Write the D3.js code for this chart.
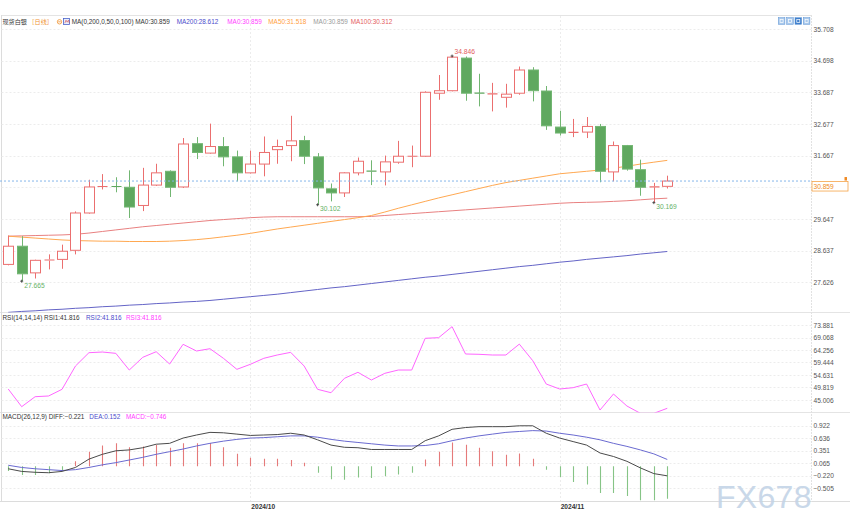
<!DOCTYPE html>
<html><head><meta charset="utf-8">
<script src="https://cdn.jsdelivr.net/npm/d3@7"></script>
<style>
body{margin:0;background:#fff;}
svg{display:block;font-family:"Liberation Sans",Arial,"Noto Sans CJK SC",sans-serif;}
</style>
</head><body>
<svg id="c" width="850" height="530"></svg>
<script>
// ---------------- DATA ----------------
const dates = ["2024-09-05","2024-09-06","2024-09-09","2024-09-10","2024-09-11","2024-09-12","2024-09-13","2024-09-16","2024-09-17","2024-09-18","2024-09-19","2024-09-20","2024-09-23","2024-09-24","2024-09-25","2024-09-26","2024-09-27","2024-09-30",
"2024-10-01","2024-10-02","2024-10-03","2024-10-04","2024-10-07","2024-10-08","2024-10-09","2024-10-10","2024-10-11","2024-10-14","2024-10-15","2024-10-16","2024-10-17","2024-10-18","2024-10-21","2024-10-22","2024-10-23","2024-10-24","2024-10-25","2024-10-28","2024-10-29","2024-10-30","2024-10-31",
"2024-11-01","2024-11-04","2024-11-05","2024-11-06","2024-11-07","2024-11-08","2024-11-11","2024-11-12","2024-11-13"];
const openV  = [28.20,28.78,27.93,28.32,28.36,28.65,29.84,30.67,30.70,30.66,30.08,30.73,31.17,30.67,32.05,31.75,31.96,31.63,31.12,31.40,31.86,31.99,32.15,31.63,30.61,30.48,31.12,31.19,31.15,31.46,31.64,31.65,33.66,33.74,34.78,33.67,33.63,33.53,33.66,34.40,33.73,32.58,32.40,32.42,32.60,31.15,31.99,31.22,30.66,30.69];
const highV  = [29.12,29.10,28.35,28.52,28.83,29.89,30.90,31.08,30.98,31.20,31.28,31.41,31.20,32.23,32.26,32.69,32.26,31.83,31.83,32.28,32.18,32.94,32.30,31.75,30.78,31.14,31.61,31.52,31.67,32.14,31.99,33.72,34.24,34.846,34.83,34.28,33.99,33.96,34.51,34.49,33.89,33.10,32.84,32.90,32.68,32.12,32.01,31.54,30.80,31.03];
const lowV   = [28.17,27.665,27.75,28.04,28.06,28.52,29.82,30.59,30.50,29.68,29.90,30.70,30.35,30.64,31.56,31.73,31.33,30.85,31.10,31.01,31.41,31.49,31.40,30.102,30.21,30.35,31.04,30.73,30.72,31.41,31.30,31.63,33.45,33.72,33.42,33.24,33.08,33.20,33.61,33.40,32.49,32.31,32.26,32.23,30.82,30.85,31.19,30.39,30.169,30.62];
const closeV = [28.78,27.90,28.33,28.36,28.62,29.84,30.67,30.70,30.67,30.03,30.73,31.12,30.66,32.04,31.77,31.96,31.63,31.12,31.40,31.77,31.96,32.14,31.65,30.64,30.48,31.12,31.49,31.16,31.47,31.65,31.66,33.69,33.74,34.81,33.66,33.65,33.65,33.63,34.40,33.74,32.62,32.39,32.42,32.60,31.17,31.99,31.24,30.66,30.69,30.859];

const ma50  = [29.10,29.07,29.04,29.01,28.98,28.96,28.95,28.94,28.94,28.93,28.93,28.93,28.94,28.96,28.99,29.03,29.08,29.13,29.19,29.26,29.33,29.39,29.45,29.51,29.57,29.63,29.69,29.76,29.87,29.99,30.10,30.21,30.32,30.42,30.52,30.62,30.72,30.81,30.88,30.95,31.02,31.09,31.13,31.17,31.21,31.27,31.33,31.40,31.46,31.518];
const ma100 = [29.10,29.11,29.12,29.13,29.14,29.16,29.20,29.25,29.30,29.35,29.40,29.44,29.48,29.52,29.56,29.60,29.63,29.66,29.69,29.71,29.72,29.72,29.72,29.72,29.72,29.72,29.72,29.73,29.76,29.79,29.82,29.85,29.88,29.91,29.94,29.97,30.00,30.03,30.06,30.09,30.12,30.15,30.17,30.18,30.19,30.21,30.23,30.26,30.29,30.312];
const ma200 = [26.67,26.70,26.72,26.75,26.77,26.80,26.82,26.85,26.87,26.90,26.92,26.95,26.97,27.00,27.02,27.05,27.09,27.13,27.17,27.21,27.25,27.30,27.35,27.40,27.45,27.49,27.54,27.59,27.64,27.69,27.74,27.79,27.83,27.88,27.93,27.98,28.03,28.08,28.13,28.17,28.22,28.27,28.31,28.36,28.40,28.44,28.48,28.53,28.57,28.612];

const rsi = [49.24,42.43,46.28,46.55,49.12,58.09,63.22,63.48,62.97,56.55,61.43,63.60,58.86,66.45,63.87,64.75,61.05,56.81,58.74,61.05,62.33,63.35,58.09,49.12,47.81,53.36,55.67,52.70,55.28,56.55,56.55,68.76,69.00,73.24,62.72,62.60,62.33,62.33,66.52,60.13,51.16,49.24,49.75,51.16,41.15,47.31,42.69,39.88,39.88,41.816];

const diff = [-0.06,-0.12,-0.14,-0.15,-0.12,-0.03,0.16,0.27,0.35,0.37,0.42,0.50,0.52,0.64,0.71,0.77,0.76,0.73,0.70,0.71,0.72,0.75,0.71,0.60,0.48,0.43,0.42,0.38,0.38,0.38,0.38,0.58,0.69,0.84,0.88,0.90,0.90,0.90,0.92,0.92,0.75,0.64,0.56,0.48,0.30,0.22,0.11,-0.04,-0.17,-0.221];
const dea  = [0.02,-0.03,-0.06,-0.08,-0.10,-0.08,-0.03,0.03,0.08,0.14,0.20,0.27,0.33,0.39,0.46,0.52,0.57,0.61,0.64,0.65,0.67,0.69,0.69,0.66,0.61,0.57,0.54,0.51,0.48,0.46,0.46,0.47,0.51,0.58,0.64,0.69,0.73,0.77,0.79,0.81,0.80,0.75,0.71,0.66,0.60,0.52,0.45,0.37,0.28,0.152];
const macdHist = [-0.11,-0.20,-0.20,-0.16,-0.11,0.11,0.33,0.47,0.52,0.43,0.45,0.48,0.42,0.52,0.52,0.53,0.43,0.28,0.19,0.17,0.17,0.14,0.08,-0.15,-0.30,-0.31,-0.26,-0.27,-0.23,-0.19,-0.15,0.15,0.33,0.54,0.49,0.42,0.34,0.26,0.29,0.17,-0.08,-0.25,-0.36,-0.42,-0.61,-0.61,-0.68,-0.78,-0.78,-0.746];

const priceTicks = [35.708,34.698,33.687,32.677,31.667,30.657,29.647,28.637,27.626];
const rsiTicks   = [73.881,69.068,64.256,59.444,54.631,49.819,45.006];
const macdTicks  = [0.922,0.636,0.351,0.065,-0.220,-0.505];
const monthTicks = ["2024-10-01","2024-11-01"];
const lastPrice = 30.859;
const ma0Value = 30.859;
const markIdx = {low1:1, low2:23, high:33, low3:48};

// ---------------- LAYOUT ----------------
const svg = d3.select("#c");
const RED = "#eb6f6f", GREEN = "#5fa85f", GREEN_E = "#72b672";
const axisX = 811.5, left = 1.5;
const step = 13.45;
const x = d3.scaleBand().domain(dates).range([left, left + step*dates.length]).padding(0);
const cx = d => x(d) + x.bandwidth()/2;

const yP = d3.scaleLinear().domain([27.626, 35.708]).range([282.4, 29]);
const yR = d3.scaleLinear().domain([45.006, 73.881]).range([400, 325]);
const yM = d3.scaleLinear().domain([-0.505, 0.922]).range([488.3, 425.7]);

const panels = [{t:15.5,b:312.5,id:"cp"},{t:312.5,b:412.5,id:"cr"},{t:412.5,b:501.5,id:"cm"}];
const defs = svg.append("defs");
panels.forEach(p=>{
  defs.append("clipPath").attr("id",p.id).append("rect")
    .attr("x",left).attr("y",p.t).attr("width",axisX-left).attr("height",p.b-p.t);
});

// frame lines
svg.append("line").attr("x1",left).attr("x2",axisX).attr("y1",15.5).attr("y2",15.5).attr("stroke","#e4e4e4");
[312.5,412.5].forEach(yy=>svg.append("line").attr("x1",0).attr("x2",850).attr("y1",yy).attr("y2",yy).attr("stroke","#e4e4e4"));
svg.append("line").attr("x1",0).attr("x2",850).attr("y1",501.5).attr("y2",501.5).attr("stroke","#dcdcdc");
svg.append("line").attr("x1",left).attr("x2",left).attr("y1",15).attr("y2",502).attr("stroke","#dcdcdc");
svg.append("line").attr("x1",axisX).attr("x2",axisX).attr("y1",15).attr("y2",502).attr("stroke","#e2e2e2").attr("stroke-dasharray","2,1");

// grids
function hgrid(scale, ticks){
  ticks.forEach(t=>svg.append("line").attr("x1",left).attr("x2",axisX)
    .attr("y1",Math.round(scale(t))+0.5).attr("y2",Math.round(scale(t))+0.5)
    .attr("stroke","#ececec").attr("stroke-dasharray","2,2"));
}
hgrid(yP, priceTicks); hgrid(yR, rsiTicks); hgrid(yM, macdTicks);
monthTicks.forEach(m=>{
  const xx = Math.round(cx(m))+0.5;
  svg.append("line").attr("x1",xx).attr("x2",xx).attr("y1",16).attr("y2",501)
    .attr("stroke","#ececec").attr("stroke-dasharray","2,2");
});

// axes
const fmt3 = d3.format(".3f");
function rightAxis(scale, ticks){
  const g = svg.append("g").attr("transform",`translate(${axisX},0)`)
    .call(d3.axisRight(scale).tickValues(ticks).tickSize(0).tickPadding(2).tickFormat(fmt3));
  g.select(".domain").remove();
  g.selectAll("text").attr("fill","#555").style("font-size","6.6px").style("font-family","'Liberation Sans',Arial,sans-serif");
  return g;
}
rightAxis(yP, priceTicks.filter(t=>Math.abs(yP(t)-yP(lastPrice))>9));
rightAxis(yR, rsiTicks);
rightAxis(yM, macdTicks);

const xg = svg.append("g").attr("transform","translate(0,501.5)")
  .call(d3.axisBottom(x).tickValues(monthTicks).tickSize(0).tickPadding(3)
    .tickFormat(d=>d.slice(0,7).replace("-","/")));
xg.select(".domain").remove();
xg.selectAll("text").attr("text-anchor","start").attr("x",1).attr("fill","#333")
  .style("font-size","6.6px").style("font-weight","bold").style("font-family","'Liberation Sans',Arial,sans-serif");

// ---------------- MAIN PANEL ----------------
const gp = svg.append("g").attr("clip-path","url(#cp)");
function maLine(g, arr, scale, color){
  g.append("path").datum(arr).attr("fill","none").attr("stroke",color).attr("stroke-width",1)
   .attr("d", d3.line().x((v,i)=>cx(dates[i])).y(v=>scale(v)));
}
maLine(gp, ma200, yP, "#6464c6");
maLine(gp, ma100, yP, "#e88080");
maLine(gp, ma50,  yP, "#ffa851");

// last price dotted line
svg.append("line").attr("x1",0).attr("x2",axisX).attr("y1",yP(lastPrice)).attr("y2",yP(lastPrice))
  .attr("stroke","#86b6ea").attr("stroke-dasharray","2,2").attr("stroke-width",1);

const bodyW = 10;
dates.forEach((d,i)=>{
  const o=openV[i], c=closeV[i], h=highV[i], l=lowV[i];
  const up = c >= o;
  const col = up ? RED : GREEN;
  const xc = Math.round(cx(d))+0.5;
  const top = yP(Math.max(o,c)), bot = yP(Math.min(o,c));
  gp.append("line").attr("x1",xc).attr("x2",xc).attr("y1",yP(h)).attr("y2",top).attr("stroke",up?RED:GREEN_E);
  gp.append("line").attr("x1",xc).attr("x2",xc).attr("y1",bot).attr("y2",yP(l)).attr("stroke",up?RED:GREEN_E);
  const bx = xc - bodyW/2;
  if (bot - top < 1.6) {
    gp.append("line").attr("x1",bx).attr("x2",bx+bodyW).attr("y1",(top+bot)/2).attr("y2",(top+bot)/2)
      .attr("stroke",col).attr("stroke-width",1.2);
  } else {
    gp.append("rect").attr("x",bx).attr("y",top).attr("width",bodyW).attr("height",bot-top)
      .attr("fill",up?"#fff":GREEN).attr("stroke",up?RED:GREEN_E).attr("stroke-width",1);
  }
});

// hi/lo markers
function mark(i, v, isHigh){
  const xc = cx(dates[i]), yy = yP(v);
  gp.append("path").attr("d",`M${xc-1.5},${yy}h3M${xc},${yy-1.5}v3`).attr("stroke","#333").attr("stroke-width",0.8);
  svg.append("text").attr("x",xc+2.5).attr("y", isHigh ? yy-2 : yy+6.5)
    .attr("fill", isHigh ? "#e25a5a" : "#66b266").style("font-size","6.7px").text(fmt3(v));
}
mark(markIdx.low1, lowV[markIdx.low1], false);
mark(markIdx.low2, lowV[markIdx.low2], false);
mark(markIdx.high, highV[markIdx.high], true);
mark(markIdx.low3, lowV[markIdx.low3], false);

// last price box
const ly = yP(lastPrice);
svg.append("rect").attr("x",812).attr("y",ly+0.5).attr("width",36).attr("height",9.5)
  .attr("fill","#fff").attr("stroke","#f5a449").attr("stroke-width",0.8);
svg.append("text").attr("x",813.5).attr("y",ly+8).attr("fill","#f08a24").style("font-size","6.6px").text(fmt3(lastPrice));
svg.append("rect").attr("x",844.5).attr("y",ly-4).attr("width",2.5).attr("height",3.5).attr("fill","#f08a24");

// ---------------- RSI PANEL ----------------
const gr = svg.append("g").attr("clip-path","url(#cr)");
maLine(gr, rsi, yR, "#ff66ff");

// ---------------- MACD PANEL ----------------
const gm = svg.append("g").attr("clip-path","url(#cm)");
dates.forEach((d,i)=>{
  const xc = Math.round(cx(d))+0.5, v = macdHist[i];
  gm.append("line").attr("x1",xc).attr("x2",xc).attr("y1",yM(0)).attr("y2",yM(v))
    .attr("stroke", v>=0 ? "#e57a7a" : "#86c486").attr("stroke-width",1.1);
});
maLine(gm, dea, yM, "#6a6ad0");
maLine(gm, diff, yM, "#4a4a4a");

// ---------------- LEGENDS ----------------
const fmt = d3.format(".3f");
const last = dates.length-1;
function piece(xx, yy, t, c, fs, fam){
  const tx = svg.append("text").attr("x",xx).attr("y",yy).attr("fill",c).style("font-size",fs||"6.4px").text(t);
  if (fam) tx.style("font-family",fam);
  return tx;
}
const cjk = "'Noto Sans CJK SC',sans-serif";
piece(2.5, 24.2, "现货白银", "#333", "6.1px", cjk);
piece(28.5, 24.2, "［日线］", "#f0922f", "6.1px", cjk);
svg.append("circle").attr("cx",59.5).attr("cy",21.8).attr("r",2.2).attr("fill","none").attr("stroke","#f0922f").attr("stroke-width",0.8);
svg.append("line").attr("x1",58.2).attr("x2",60.8).attr("y1",21.8).attr("y2",21.8).attr("stroke","#f0922f").attr("stroke-width",0.8);
svg.append("rect").attr("x",63.5).attr("y",18.5).attr("width",6).attr("height",6).attr("fill","#e9eefc").attr("stroke","#4b63c9").attr("stroke-width",0.8);
svg.append("path").attr("d","M64.8,23.2 l1.2,-3 1.2,2 1.2,-2 1,3").attr("fill","none").attr("stroke","#d04848").attr("stroke-width",0.6);
piece(71.7, 24.2, `MA(0,200,0,50,0,100) MA0:${fmt(ma0Value)}`, "#333");
piece(176.7, 24.2, `MA200:${fmt(ma200[last])}`, "#4a4acb");
piece(227.3, 24.2, `MA0:${fmt(ma0Value)}`, "#ff3cff");
piece(268.3, 24.2, `MA50:${fmt(ma50[last])}`, "#ff9e40");
piece(313.3, 24.2, `MA0:${fmt(ma0Value)}`, "#9a9a9a");
piece(350.7, 24.2, `MA100:${fmt(ma100[last])}`, "#e46060");

piece(2.5, 320, `RSI(14,14,14) RSI1:${fmt(rsi[last])}`, "#333");
piece(86, 320, `RSI2:${fmt(rsi[last])}`, "#4a4acb");
piece(126, 320, `RSI3:${fmt(rsi[last])}`, "#ff3cff");

piece(2.5, 418.6, `MACD(26,12,9) DIFF:${fmt(diff[last])}`, "#333");
piece(89.3, 418.6, `DEA:${fmt(dea[last])}`, "#4a4acb");
piece(126, 418.6, `MACD:${fmt(macdHist[last])}`, "#ff3cff");

// top-right tool icons
[[778.3,"#a8c8ec"],[786.7,"#a8c8ec"],[795,"#3f7fcc"],[803.3,"#a8c8ec"]].forEach(([ix,c])=>{
  svg.append("rect").attr("x",ix).attr("y",17.7).attr("width",6.6).attr("height",6.6).attr("fill",c).attr("stroke","#5a92d4").attr("stroke-width",0.5);
  svg.append("rect").attr("x",ix+1.8).attr("y",19.5).attr("width",3).attr("height",3).attr("fill","none").attr("stroke","#fff").attr("stroke-width",0.7);
});

// watermark
svg.append("text").attr("x",716).attr("y",508).attr("fill","#c4d4e7").attr("opacity",0.9)
  .style("font-size","32px").style("letter-spacing","0.3px").text("FX678");
</script>
</body></html>
